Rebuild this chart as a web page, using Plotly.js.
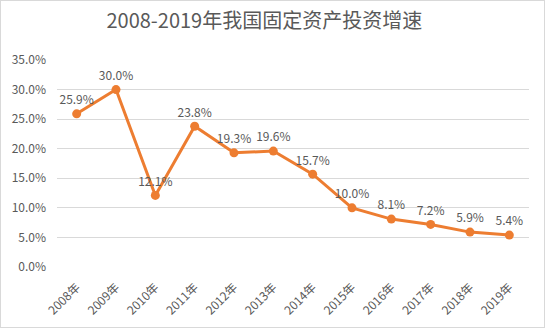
<!DOCTYPE html>
<html><head><meta charset="utf-8">
<script src="https://cdn.plot.ly/plotly-3.0.1.min.js"></script>
<style>
html,body{margin:0;padding:0;background:#fff;}
#wrap{width:543px;height:326px;border:1px solid #d9d9d9;}
#chart{width:543px;height:326px;}
</style></head>
<body><div id="wrap"><div id="chart"></div></div>
<script>
const years = ['2008年','2009年','2010年','2011年','2012年','2013年','2014年','2015年','2016年','2017年','2018年','2019年'];
const growth = [25.9, 30.0, 12.1, 23.8, 19.3, 19.6, 15.7, 10.0, 8.1, 7.2, 5.9, 5.4];
const labels = growth.map(v => v.toFixed(1) + '%');
const yTicks = [0,5,10,15,20,25,30,35];
const yTickText = yTicks.map(v => v.toFixed(1) + '%');

const font = '"Noto Sans CJK SC", "Noto Sans", sans-serif';
Plotly.newPlot('chart', [{
  x: years, y: growth, type: 'scatter', mode: 'lines+markers+text',
  text: labels, textposition: 'top center',
  textfont: {family: font, size: 12, color: '#595959'},
  line: {color: '#ED7D31', width: 3},
  marker: {color: '#ED7D31', size: 9},
  cliponaxis: false, hoverinfo: 'none'
}], {
  width: 543, height: 326,
  margin: {l: 56, r: 15, t: 59, b: 60},
  paper_bgcolor: '#fff', plot_bgcolor: '#fff',
  showlegend: false,
  title: {text: '2008-2019年我国固定资产投资增速', font: {family: font, size: 20, color: '#595959'}, x: 0.485, xanchor: 'center', y: 0.94, yanchor: 'middle'},
  xaxis: {type: 'category', range: [-0.5, years.length - 0.5], tickangle: -45,
          tickfont: {family: font, size: 12, color: '#595959'},
          automargin: false, ticklabelstandoff: 10,
          showgrid: false, showline: false, zeroline: false, ticks: ''},
  yaxis: {range: [0, 35], tickvals: yTicks, ticktext: yTickText,
          tickfont: {family: font, size: 12, color: '#595959'},
          automargin: false, ticklabelstandoff: 10,
          gridcolor: '#d9d9d9', gridwidth: 1, showline: false, zeroline: false, ticks: '', ticklen: 0}
}, {staticPlot: true});
</script></body></html>
